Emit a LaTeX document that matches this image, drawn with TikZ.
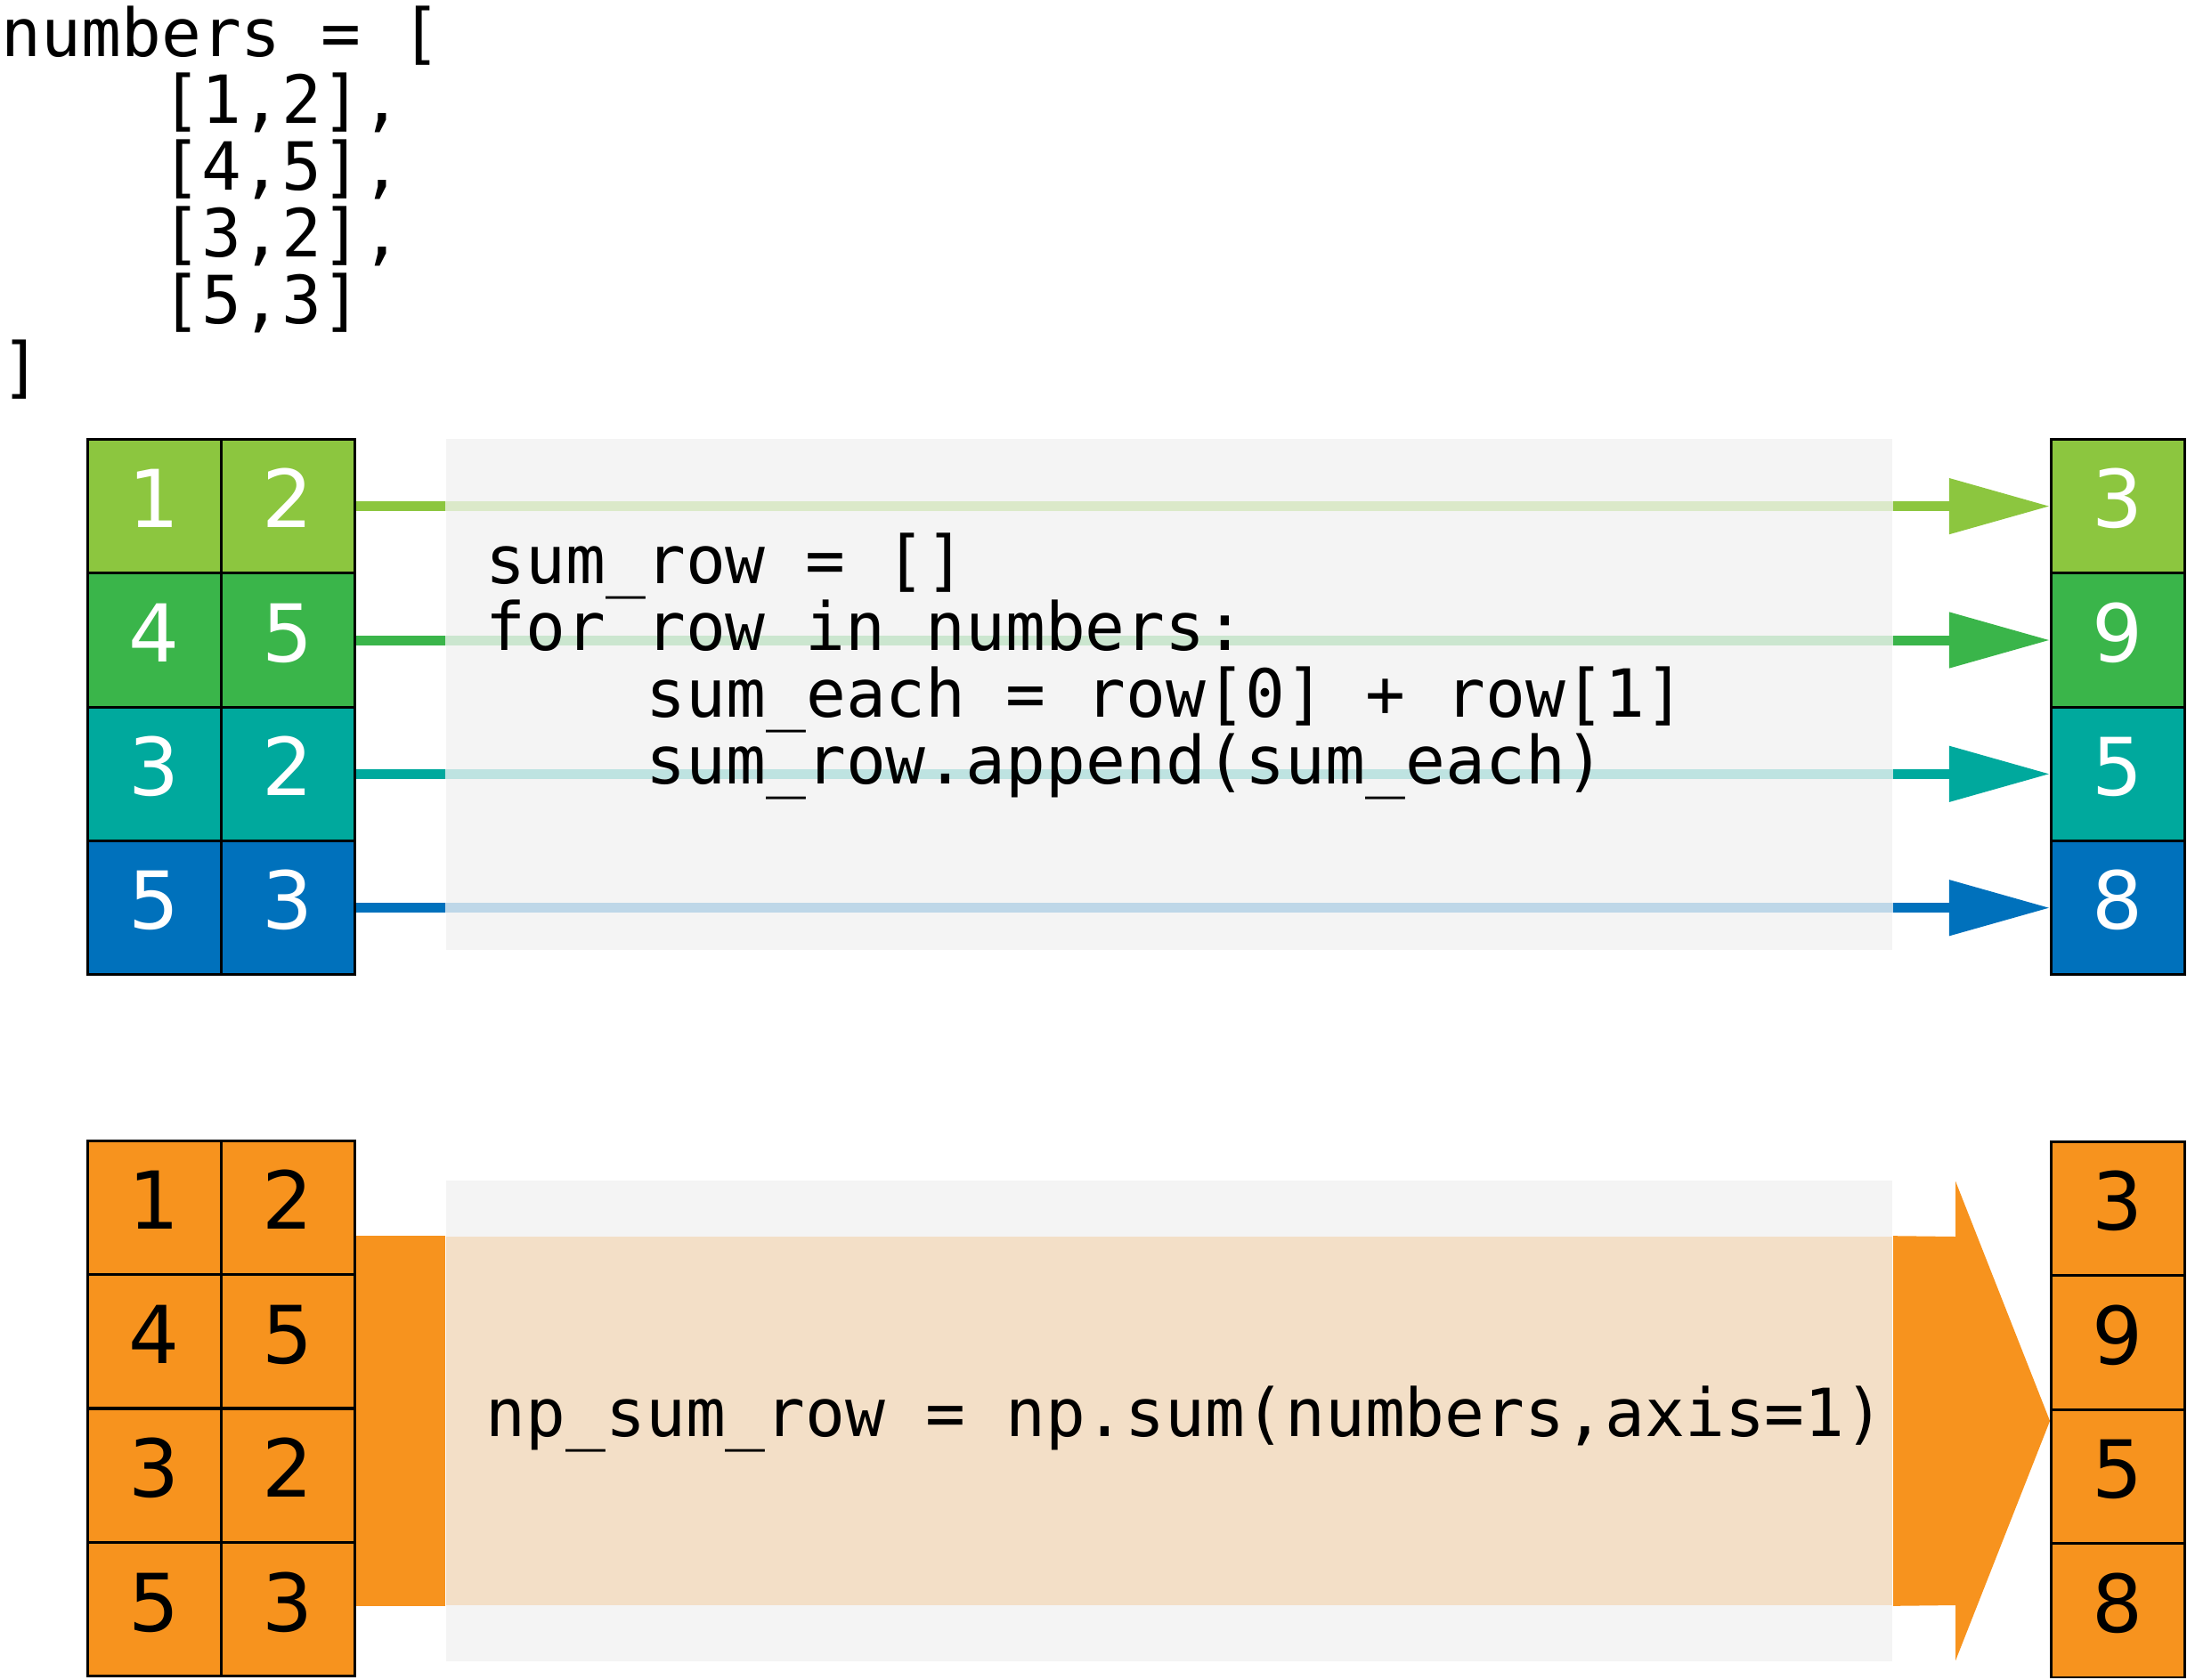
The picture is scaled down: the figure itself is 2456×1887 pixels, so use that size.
\documentclass[tikz,border=0pt]{standalone}
\usepackage{fontspec}
\setmonofont{DejaVu Sans Mono}
\newfontfamily\cellfont{DejaVu Sans}
\usetikzlibrary{arrows.meta}
\definecolor{cA}{HTML}{8CC63F}
\definecolor{cB}{HTML}{3AB54A}
\definecolor{cC}{HTML}{00A99D}
\definecolor{cD}{HTML}{0071BC}
\definecolor{cO}{HTML}{F7931E}
\definecolor{boxgray}{HTML}{F4F4F4}
\definecolor{beige}{HTML}{F3DFC7}
\colorlet{cAl}{cA!24!boxgray}
\colorlet{cBl}{cB!22!boxgray}
\colorlet{cCl}{cC!22!boxgray}
\colorlet{cDl}{cD!22!boxgray}
\begin{document}
\begin{tikzpicture}[x=0.01cm,y=-0.01cm,
  code/.style={anchor=base west, inner sep=0, font=\ttfamily\fontsize{21.2}{21.2}\selectfont},
  cell/.style={draw=black, line width=0.8pt, minimum width=1.5cm, minimum height=1.5cm, inner sep=0,
    text height=0.655cm, text depth=0.17cm, font=\cellfont\fontsize{25.5}{25.5}\selectfont},
  wcell/.style={cell, text=white},
  ocell/.style={cell, fill=cO, text=black},
  conn/.style={line width=0.11cm, -{Triangle[length=1.13cm,width=0.6cm]}},
  lite/.style={line width=0.11cm},
  panel/.style={inner sep=0, minimum width=16.24cm}
]
\useasboundingbox (0,0) rectangle (2456,1887);

% top-left listing
\node[code] (t1) at (1,63) {numbers = [};
\node[code] (t2) at (181,138) {[1,2],};
\node[code] (t3) at (181,213) {[4,5],};
\node[code] (t4) at (181,288) {[3,2],};
\node[code] (t5) at (181,363) {[5,3]};
\node[code] (t6) at (1,438) {]};

% top panel
\node[panel, fill=boxgray, minimum height=5.736cm] (box1) at (1313,780.2) {};

\node[wcell, fill=cA] (a11) at (173.5,568.6) {1};
\node[wcell, fill=cA] (a12) at (323.5,568.6) {2};
\node[wcell, fill=cB] (a21) at (173.5,719) {4};
\node[wcell, fill=cB] (a22) at (323.5,719) {5};
\node[wcell, fill=cC] (a31) at (173.5,869.3) {3};
\node[wcell, fill=cC] (a32) at (323.5,869.3) {2};
\node[wcell, fill=cD] (a41) at (173.5,1019.7) {5};
\node[wcell, fill=cD] (a42) at (323.5,1019.7) {3};

\node[wcell, fill=cA] (r1) at (2378.5,568.6) {3};
\node[wcell, fill=cB] (r2) at (2378.5,719) {9};
\node[wcell, fill=cC] (r3) at (2378.5,869.3) {5};
\node[wcell, fill=cD] (r4) at (2378.5,1019.7) {8};

\draw[conn, cA] (a12.east) -- (r1.west);
\draw[conn, cB] (a22.east) -- (r2.west);
\draw[conn, cC] (a32.east) -- (r3.west);
\draw[conn, cD] (a42.east) -- (r4.west);
\draw[lite, cAl] (box1.west |- a12.east) -- (box1.east |- a12.east);
\draw[lite, cBl] (box1.west |- a22.east) -- (box1.east |- a22.east);
\draw[lite, cCl] (box1.west |- a32.east) -- (box1.east |- a32.east);
\draw[lite, cDl] (box1.west |- a42.east) -- (box1.east |- a42.east);

\node[code] (c1) at (545,655) {sum\_row = []};
\node[code] (c2) at (545,730) {for row in numbers:};
\node[code] (c3) at (725,805) {sum\_each = row[0] + row[1]};
\node[code] (c4) at (725,880) {sum\_row.append(sum\_each)};

% bottom panel
\node[panel, fill=boxgray, minimum height=5.388cm] (box2) at (1313,1596) {};
\node[panel, fill=beige, minimum height=4.14cm] (band) at (1313,1596) {};

\node[ocell] (b11) at (173.5,1356.3) {1};
\node[ocell] (b12) at (323.5,1356.3) {2};
\node[ocell] (b21) at (173.5,1506.8) {4};
\node[ocell] (b22) at (323.5,1506.8) {5};
\node[ocell] (b31) at (173.5,1657.3) {3};
\node[ocell] (b32) at (323.5,1657.3) {2};
\node[ocell] (b41) at (173.5,1807.8) {5};
\node[ocell] (b42) at (323.5,1807.8) {3};

\node[ocell] (s1) at (2378.5,1357.5) {3};
\node[ocell] (s2) at (2378.5,1508) {9};
\node[ocell] (s3) at (2378.5,1658.5) {5};
\node[ocell] (s4) at (2378.5,1809) {8};

\fill[cO] (b12.east |- band.north) rectangle (band.south west);
\fill[cO] (band.north east) -- (2196,1389) -- (2196,1326.6) -- (s1.west |- band.east)
  -- (2196,1865.4) -- (2196,1803) -- (band.south east) -- cycle;

\node[code] (c5) at (545,1613) {np\_sum\_row = np.sum(numbers,axis=1)};
\end{tikzpicture}
\end{document}
